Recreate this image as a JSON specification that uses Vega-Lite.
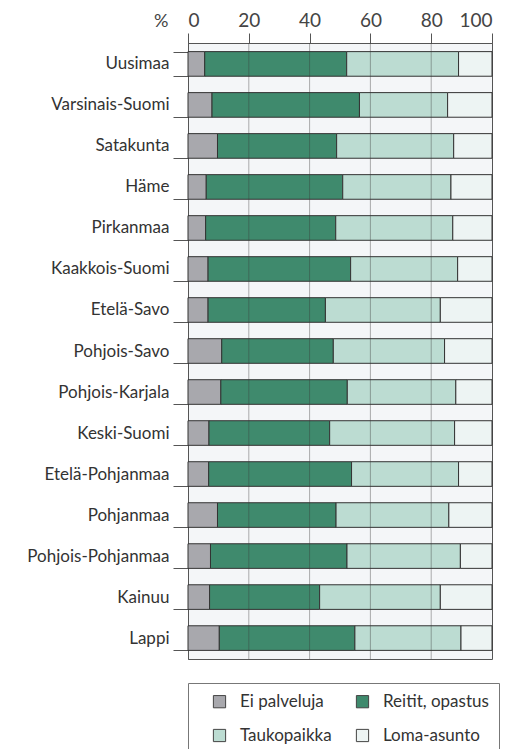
{
  "$schema": "https://vega.github.io/schema/vega-lite/v6.json",
  "width": 304,
  "height": 616,
  "autosize": {"type": "none"},
  "padding": {"left": 188, "top": 43, "right": 14, "bottom": 90},
  "background": "white",
  "config": {
    "font": "Lato",
    "view": {"fill": "#f4f6f8", "stroke": "#555", "strokeWidth": 1}
  },
  "datasets": {
    "shares": [
      {"region": "Uusimaa", "cat": "Ei palveluja", "o": 1, "value": 5.5},
      {"region": "Uusimaa", "cat": "Reitit, opastus", "o": 2, "value": 46.7},
      {"region": "Uusimaa", "cat": "Taukopaikka", "o": 3, "value": 36.8},
      {"region": "Uusimaa", "cat": "Loma-asunto", "o": 4, "value": 11.0},
      {"region": "Varsinais-Suomi", "cat": "Ei palveluja", "o": 1, "value": 7.9},
      {"region": "Varsinais-Suomi", "cat": "Reitit, opastus", "o": 2, "value": 48.5},
      {"region": "Varsinais-Suomi", "cat": "Taukopaikka", "o": 3, "value": 29.0},
      {"region": "Varsinais-Suomi", "cat": "Loma-asunto", "o": 4, "value": 14.6},
      {"region": "Satakunta", "cat": "Ei palveluja", "o": 1, "value": 9.7},
      {"region": "Satakunta", "cat": "Reitit, opastus", "o": 2, "value": 39.2},
      {"region": "Satakunta", "cat": "Taukopaikka", "o": 3, "value": 38.5},
      {"region": "Satakunta", "cat": "Loma-asunto", "o": 4, "value": 12.6},
      {"region": "Häme", "cat": "Ei palveluja", "o": 1, "value": 6.0},
      {"region": "Häme", "cat": "Reitit, opastus", "o": 2, "value": 44.9},
      {"region": "Häme", "cat": "Taukopaikka", "o": 3, "value": 35.6},
      {"region": "Häme", "cat": "Loma-asunto", "o": 4, "value": 13.5},
      {"region": "Pirkanmaa", "cat": "Ei palveluja", "o": 1, "value": 5.8},
      {"region": "Pirkanmaa", "cat": "Reitit, opastus", "o": 2, "value": 42.8},
      {"region": "Pirkanmaa", "cat": "Taukopaikka", "o": 3, "value": 38.5},
      {"region": "Pirkanmaa", "cat": "Loma-asunto", "o": 4, "value": 12.9},
      {"region": "Kaakkois-Suomi", "cat": "Ei palveluja", "o": 1, "value": 6.6},
      {"region": "Kaakkois-Suomi", "cat": "Reitit, opastus", "o": 2, "value": 46.9},
      {"region": "Kaakkois-Suomi", "cat": "Taukopaikka", "o": 3, "value": 35.2},
      {"region": "Kaakkois-Suomi", "cat": "Loma-asunto", "o": 4, "value": 11.3},
      {"region": "Etelä-Savo", "cat": "Ei palveluja", "o": 1, "value": 6.6},
      {"region": "Etelä-Savo", "cat": "Reitit, opastus", "o": 2, "value": 38.6},
      {"region": "Etelä-Savo", "cat": "Taukopaikka", "o": 3, "value": 37.8},
      {"region": "Etelä-Savo", "cat": "Loma-asunto", "o": 4, "value": 17.0},
      {"region": "Pohjois-Savo", "cat": "Ei palveluja", "o": 1, "value": 11.1},
      {"region": "Pohjois-Savo", "cat": "Reitit, opastus", "o": 2, "value": 36.7},
      {"region": "Pohjois-Savo", "cat": "Taukopaikka", "o": 3, "value": 36.6},
      {"region": "Pohjois-Savo", "cat": "Loma-asunto", "o": 4, "value": 15.6},
      {"region": "Pohjois-Karjala", "cat": "Ei palveluja", "o": 1, "value": 10.8},
      {"region": "Pohjois-Karjala", "cat": "Reitit, opastus", "o": 2, "value": 41.6},
      {"region": "Pohjois-Karjala", "cat": "Taukopaikka", "o": 3, "value": 35.7},
      {"region": "Pohjois-Karjala", "cat": "Loma-asunto", "o": 4, "value": 11.9},
      {"region": "Keski-Suomi", "cat": "Ei palveluja", "o": 1, "value": 6.9},
      {"region": "Keski-Suomi", "cat": "Reitit, opastus", "o": 2, "value": 39.7},
      {"region": "Keski-Suomi", "cat": "Taukopaikka", "o": 3, "value": 41.1},
      {"region": "Keski-Suomi", "cat": "Loma-asunto", "o": 4, "value": 12.3},
      {"region": "Etelä-Pohjanmaa", "cat": "Ei palveluja", "o": 1, "value": 6.8},
      {"region": "Etelä-Pohjanmaa", "cat": "Reitit, opastus", "o": 2, "value": 47.0},
      {"region": "Etelä-Pohjanmaa", "cat": "Taukopaikka", "o": 3, "value": 35.2},
      {"region": "Etelä-Pohjanmaa", "cat": "Loma-asunto", "o": 4, "value": 11.0},
      {"region": "Pohjanmaa", "cat": "Ei palveluja", "o": 1, "value": 9.7},
      {"region": "Pohjanmaa", "cat": "Reitit, opastus", "o": 2, "value": 39.0},
      {"region": "Pohjanmaa", "cat": "Taukopaikka", "o": 3, "value": 37.1},
      {"region": "Pohjanmaa", "cat": "Loma-asunto", "o": 4, "value": 14.2},
      {"region": "Pohjois-Pohjanmaa", "cat": "Ei palveluja", "o": 1, "value": 7.4},
      {"region": "Pohjois-Pohjanmaa", "cat": "Reitit, opastus", "o": 2, "value": 44.9},
      {"region": "Pohjois-Pohjanmaa", "cat": "Taukopaikka", "o": 3, "value": 37.3},
      {"region": "Pohjois-Pohjanmaa", "cat": "Loma-asunto", "o": 4, "value": 10.4},
      {"region": "Kainuu", "cat": "Ei palveluja", "o": 1, "value": 7.1},
      {"region": "Kainuu", "cat": "Reitit, opastus", "o": 2, "value": 36.2},
      {"region": "Kainuu", "cat": "Taukopaikka", "o": 3, "value": 39.7},
      {"region": "Kainuu", "cat": "Loma-asunto", "o": 4, "value": 17.0},
      {"region": "Lappi", "cat": "Ei palveluja", "o": 1, "value": 10.3},
      {"region": "Lappi", "cat": "Reitit, opastus", "o": 2, "value": 44.6},
      {"region": "Lappi", "cat": "Taukopaikka", "o": 3, "value": 34.9},
      {"region": "Lappi", "cat": "Loma-asunto", "o": 4, "value": 10.2}
    ],
    "gridlines": [{"g": 20}, {"g": 40}, {"g": 60}, {"g": 80}]
  },
  "layer": [
    {
      "data": {"name": "shares"},
      "mark": {"type": "bar", "stroke": "#333", "strokeWidth": 1},
      "encoding": {
        "y": {
          "field": "region",
          "type": "nominal",
          "sort": null,
          "scale": {"paddingInner": 0.4, "paddingOuter": 0.21},
          "axis": {
            "title": null,
            "labelFontSize": 17,
            "labelColor": "#333",
            "tickSize": 15,
            "tickBand": "extent",
            "labelPadding": 4,
            "domain": true,
            "domainColor": "#555",
            "tickColor": "#555",
            "grid": false
          }
        },
        "x": {
          "field": "value",
          "type": "quantitative",
          "stack": "zero",
          "scale": {"domain": [0, 100], "nice": false},
          "axis": {
            "orient": "top",
            "values": [0, 20, 40, 60, 80, 100],
            "title": "%",
            "titleFontSize": 18,
            "titleFontWeight": "normal",
            "titleColor": "#444",
            "titleAngle": 0,
            "titleAlign": "right",
            "titleBaseline": "bottom",
            "titleX": -20,
            "titleY": -13,
            "labelFontSize": 19,
            "labelColor": "#444",
            "labelPadding": 3,
            "tickSize": 10,
            "tickColor": "#555",
            "domainColor": "#555",
            "grid": false
          }
        },
        "color": {
          "field": "cat",
          "type": "nominal",
          "scale": {
            "domain": ["Ei palveluja", "Reitit, opastus", "Taukopaikka", "Loma-asunto"],
            "range": ["#a8a8ad", "#3f8a6d", "#bcdcd2", "#edf4f3"]
          },
          "legend": {
            "title": null,
            "orient": "none",
            "direction": "horizontal",
            "legendX": 0,
            "legendY": 640,
            "columns": 2,
            "padding": 10,
            "symbolOffset": 13,
            "strokeColor": "#777",
            "fillColor": "white",
            "symbolType": "square",
            "symbolSize": 150,
            "symbolStrokeColor": "#444",
            "symbolStrokeWidth": 1,
            "labelFontSize": 17,
            "labelColor": "#333",
            "labelOffset": 12,
            "rowPadding": 16,
            "columnPadding": 9
          }
        },
        "order": {"field": "o"}
      }
    },
    {
      "data": {"name": "gridlines"},
      "mark": {"type": "rule", "color": "#3a3a3a", "opacity": 0.4, "strokeWidth": 1},
      "encoding": {
        "x": {"field": "g", "type": "quantitative"}
      }
    }
  ]
}
